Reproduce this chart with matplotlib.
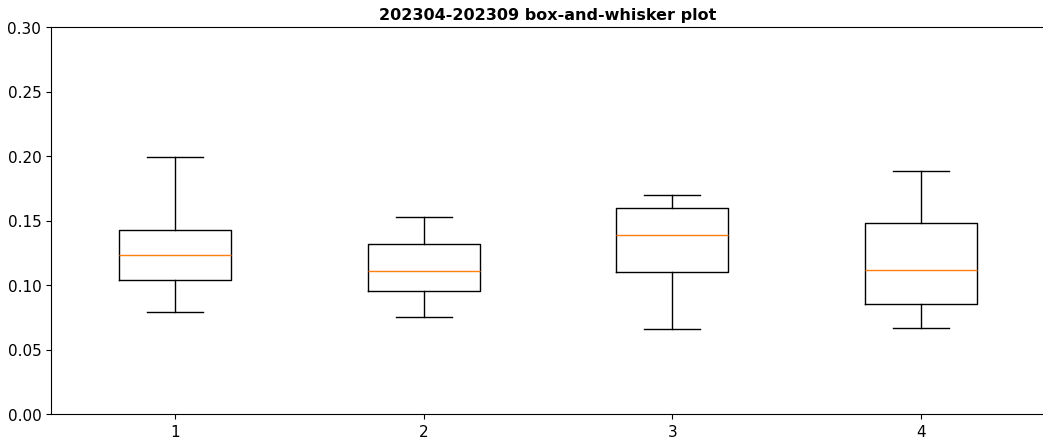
import matplotlib
matplotlib.use("Agg")
from matplotlib import pyplot as plt

# box statistics, one entry per group
labels = ['1', '2', '3', '4']
whislo = [0.0791, 0.0752, 0.0659, 0.0667]
q1 = [0.1039, 0.0953, 0.1101, 0.0853]
med = [0.1233, 0.1109, 0.1388, 0.1116]
q3 = [0.1426, 0.1318, 0.1597, 0.1481]
whishi = [0.1992, 0.1527, 0.1698, 0.1884]

stats = []
for i in range(len(labels)):
    stats.append({'label': labels[i], 'whislo': whislo[i], 'q1': q1[i],
                  'med': med[i], 'q3': q3[i], 'whishi': whishi[i], 'fliers': []})

fig = plt.figure(figsize=(10.43, 4.39), dpi=100)
ax = fig.add_axes([51 / 1043, 24 / 439, 994 / 1043, 387 / 439])

ax.bxp(stats, widths=0.45, showfliers=False)

ax.set_ylim(0, 0.30)
ax.set_yticks([0.0, 0.05, 0.10, 0.15, 0.20, 0.25, 0.30])
ax.tick_params(labelsize=11)
ax.spines['right'].set_visible(False)
ax.set_title('202304-202309 box-and-whisker plot', fontsize=11.5, fontweight='bold')

plt.savefig('out.png', dpi=100)
